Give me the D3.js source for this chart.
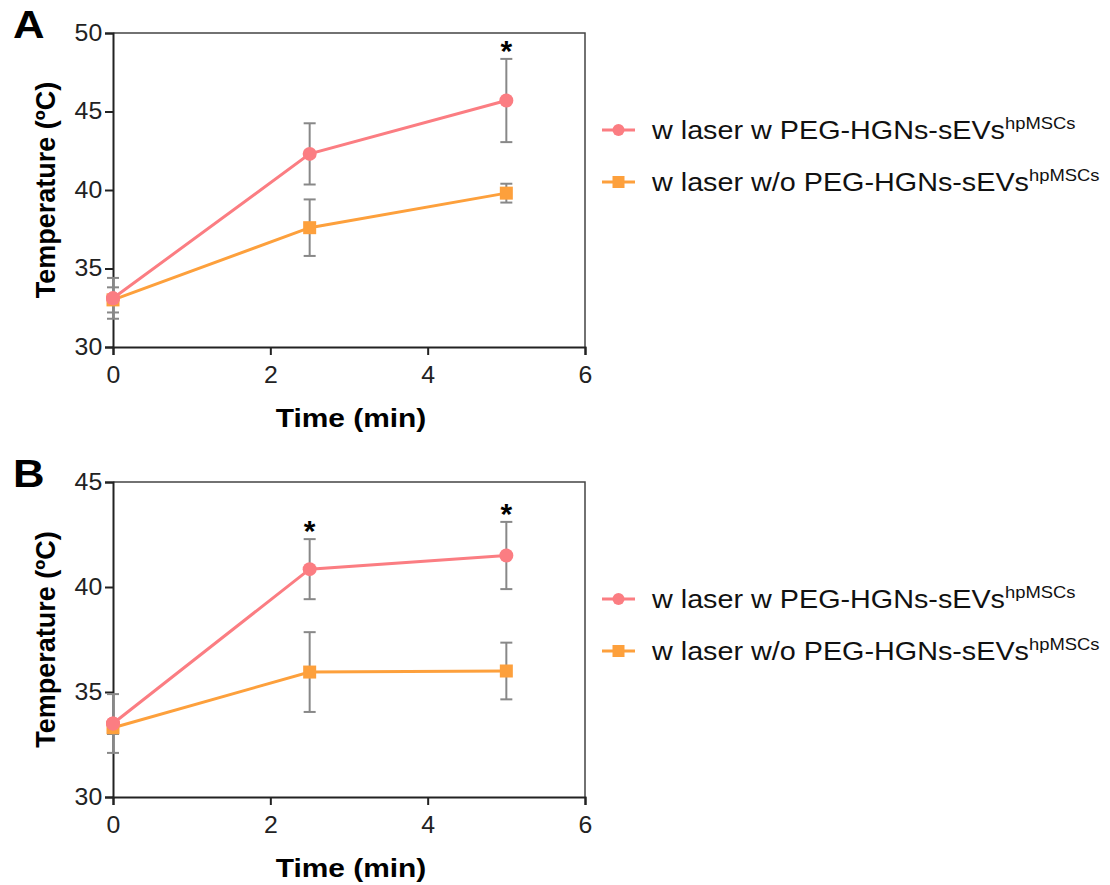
<!DOCTYPE html>
<html>
<head>
<meta charset="utf-8">
<script src="https://cdn.jsdelivr.net/npm/d3@7"></script>
<style>
  body { margin: 0; background: #fff; }
  text { font-family: "Liberation Sans", Arial, sans-serif; }
</style>
</head>
<body>
<svg id="chart" width="1110" height="885"></svg>
<script>
var times = [0, 2.5, 5];
var seriesNames = ["w laser w PEG-HGNs-sEVs", "w laser w/o PEG-HGNs-sEVs"];
var seriesColors = ["#fb7d82", "#fda03c"];

// panel A
var aWith = [33.1, 42.3, 45.7];
var aWithErr = [1.3, 1.95, 2.65];
var aWithout = [33.0, 37.6, 39.8];
var aWithoutErr = [0.8, 1.8, 0.6];
var aStars = [5];

// panel B
var bWith = [33.5, 40.85, 41.5];
var bWithErr = [1.4, 1.43, 1.6];
var bWithout = [33.3, 35.95, 36.0];
var bWithoutErr = [0.3, 1.9, 1.35];
var bStars = [2.5, 5];

var xTicks = [0, 2, 4, 6];

var SX = 1.15; // the figure text is a bit wide, stretch horizontally
var svg = d3.select("#chart");

function wideText(parent, x, y){
  return parent.append("text")
    .attr("transform", "translate(" + x + "," + y + ") scale(" + SX + ",1)");
}

function drawPanel(opt){
  var g = svg.append("g");
  var x = d3.scaleLinear().domain([0, 6]).range([113, 585]);
  var y = d3.scaleLinear().domain(opt.yDomain).range([opt.bottom, opt.top]);

  // frame (top/right)
  g.append("path")
    .attr("d", "M" + x(0) + "," + y(opt.yDomain[1]) + "H" + x(6) + "V" + y(opt.yDomain[0]))
    .attr("fill", "none").attr("stroke", "#444").attr("stroke-width", 1.5);

  var xa = g.append("g").attr("transform", "translate(0," + opt.bottom + ")")
    .call(d3.axisBottom(x).tickValues(xTicks).tickSize(8).tickPadding(12).tickFormat(d3.format("d")));
  var ya = g.append("g").attr("transform", "translate(113,0)")
    .call(d3.axisLeft(y).tickValues(opt.yTicks).tickSize(8).tickPadding(2));
  [xa, ya].forEach(function(a){
    a.select(".domain").attr("stroke", "#222").attr("stroke-width", 2);
    a.selectAll(".tick line").attr("stroke", "#222").attr("stroke-width", 2);
    a.selectAll("text").attr("font-size", 23).attr("fill", "#222")
      .attr("font-family", "Liberation Sans, Arial, sans-serif")
      .attr("transform", "scale(1.08,1)");
  });

  var series = [
    {vals: opt.withV, err: opt.withE, color: seriesColors[0], shape: "circle"},
    {vals: opt.withoutV, err: opt.withoutE, color: seriesColors[1], shape: "square"}
  ];

  // error bars (drawn below lines)
  series.forEach(function(s){
    var eb = g.append("g").selectAll("g").data(times).enter().append("g");
    eb.append("line")
      .attr("x1", function(d){ return x(d); }).attr("x2", function(d){ return x(d); })
      .attr("y1", function(d, i){ return y(s.vals[i] + s.err[i]); })
      .attr("y2", function(d, i){ return y(s.vals[i] - s.err[i]); })
      .attr("stroke", "#888").attr("stroke-width", 2);
    [1, -1].forEach(function(sign){
      eb.append("line")
        .attr("x1", function(d){ return x(d) - 6; }).attr("x2", function(d){ return x(d) + 6; })
        .attr("y1", function(d, i){ return y(s.vals[i] + sign * s.err[i]); })
        .attr("y2", function(d, i){ return y(s.vals[i] + sign * s.err[i]); })
        .attr("stroke", "#888").attr("stroke-width", 2);
    });
  });

  var line = d3.line().x(function(d){ return x(d[0]); }).y(function(d){ return y(d[1]); });
  series.slice().reverse().forEach(function(s){
    var pts = times.map(function(t, i){ return [t, s.vals[i]]; });
    g.append("path").datum(pts).attr("d", line)
      .attr("fill", "none").attr("stroke", s.color).attr("stroke-width", 3);
    if (s.shape === "circle") {
      g.selectAll(null).data(pts).enter().append("circle")
        .attr("cx", function(d){ return x(d[0]); }).attr("cy", function(d){ return y(d[1]); })
        .attr("r", 7).attr("fill", s.color);
    } else {
      g.selectAll(null).data(pts).enter().append("rect")
        .attr("x", function(d){ return x(d[0]) - 6.5; }).attr("y", function(d){ return y(d[1]) - 6.5; })
        .attr("width", 13).attr("height", 13).attr("fill", s.color);
    }
  });
  // pink over orange at x=0
  g.append("circle").attr("cx", x(0)).attr("cy", y(opt.withV[0])).attr("r", 7).attr("fill", seriesColors[0]);

  // significance stars
  g.selectAll(null).data(opt.stars).enter().append("text")
    .attr("x", function(d){ return x(d); })
    .attr("y", function(d){ var i = times.indexOf(d); return y(opt.withV[i] + opt.withE[i]) + 2; })
    .attr("text-anchor", "middle").attr("font-size", 30).attr("font-weight", "bold")
    .text("*");

  // axis titles
  g.append("text")
    .attr("transform", "translate(55," + ((opt.top + opt.bottom) / 2) + ") rotate(-90)")
    .attr("text-anchor", "middle").attr("font-size", 27).attr("font-weight", "bold")
    .text("Temperature (ºC)");
  wideText(g, x(3) + 2, opt.bottom + 80)
    .attr("text-anchor", "middle").attr("font-size", 26).attr("font-weight", "bold")
    .text("Time (min)");

  // panel letter
  wideText(g, 13, opt.top + 5)
    .attr("font-size", 38).attr("font-weight", "bold").text(opt.letter);

  // legend
  var lg = g.append("g").selectAll("g").data(series).enter().append("g")
    .attr("transform", function(d, i){ return "translate(602," + (opt.legendY + i * 52) + ")"; });
  lg.append("line").attr("x1", 0).attr("x2", 33).attr("y1", 0).attr("y2", 0)
    .attr("stroke", function(d){ return d.color; }).attr("stroke-width", 3);
  lg.each(function(d){
    var sel = d3.select(this);
    if (d.shape === "circle") sel.append("circle").attr("cx", 16.5).attr("cy", 0).attr("r", 6).attr("fill", d.color);
    else sel.append("rect").attr("x", 10.5).attr("y", -6).attr("width", 12).attr("height", 12).attr("fill", d.color);
  });
  var lt = lg.append("text").attr("transform", "translate(50,9) scale(" + SX + ",1)")
    .attr("font-size", 25).attr("fill", "#111");
  lt.append("tspan").text(function(d, i){ return seriesNames[i]; });
  lt.append("tspan").attr("dy", -10).attr("font-size", 16).text("hpMSCs");
}

drawPanel({letter: "A", yDomain: [30, 50], yTicks: [30, 35, 40, 45, 50], top: 33, bottom: 347,
  withV: aWith, withE: aWithErr, withoutV: aWithout, withoutE: aWithoutErr, stars: aStars, legendY: 130});
drawPanel({letter: "B", yDomain: [30, 45], yTicks: [30, 35, 40, 45], top: 482, bottom: 797,
  withV: bWith, withE: bWithErr, withoutV: bWithout, withoutE: bWithoutErr, stars: bStars, legendY: 599});
</script>
</body>
</html>
